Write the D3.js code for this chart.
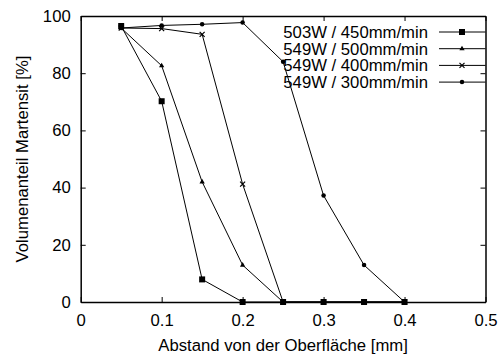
<!DOCTYPE html>
<html>
  <head>
    <meta charset="utf-8">
    <title>Martensit</title>
    <style>
      body{margin:0; background:#fff;}
      svg{font-family: "Liberation Sans", Arial, sans-serif;}
    </style>
    <script src="https://d3js.org/d3.v7.min.js"></script>
  </head>
  <body>
    <script>

        // distance from the surface [mm]
        var distances = [0.05, 0.1, 0.15, 0.2, 0.25, 0.3, 0.35, 0.4];

        var labels = ["503W / 450mm/min", "549W / 500mm/min", "549W / 400mm/min", "549W / 300mm/min"];
        var symbols = ["square", "triangle", "cross", "circle"];

        var s450 = [96.5, 70.2, 7.9, 0, 0, 0, 0, 0];
        var s500 = [95.8, 82.6, 42, 12.9, 0, 0, 0, 0];
        var s400 = [95.8, 95.6, 93.6, 41.2, 0, 0, 0, 0];
        var s300 = [95.8, 96.7, 97.1, 97.7, 84, 37.2, 12.9, 0];
        var series = [s450, s500, s400, s300];

        var xTicks = [0, 0.1, 0.2, 0.3, 0.4, 0.5];
        var yTicks = [0, 20, 40, 60, 80, 100];

        var fs = 16.7;
        var width = 502, height = 356;
        var margin = {top: 16, right: 16.5, bottom: 54, left: 80.7};
        var w = width - margin.left - margin.right;
        var h = height - margin.top - margin.bottom;

        var svg = d3.select("body").append("svg")
            .attr("width", width)
            .attr("height", height);

        var g = svg.append("g")
            .attr("transform", "translate(" + margin.left + "," + margin.top + ")");

        var x = d3.scaleLinear().domain([0, 0.5]).range([0, w]);
        var y = d3.scaleLinear().domain([0, 100]).range([h, 0]);

        // axes, ticks pointing inwards, mirrored on top/right
        var axBottom = g.append("g").attr("transform", "translate(0," + h + ")")
            .call(d3.axisBottom(x).tickValues(xTicks).tickSizeInner(-5).tickSizeOuter(0).tickPadding(12.5)
                .tickFormat(function (d) { return d === 0 ? "0" : d3.format(".1f")(d); }));
        var axLeft = g.append("g")
            .call(d3.axisLeft(y).tickValues(yTicks).tickSizeInner(-5).tickSizeOuter(0).tickPadding(10));
        var axTop = g.append("g")
            .call(d3.axisTop(x).tickValues(xTicks).tickSizeInner(-5).tickSizeOuter(0).tickFormat(""));
        var axRight = g.append("g").attr("transform", "translate(" + w + ",0)")
            .call(d3.axisRight(y).tickValues(yTicks).tickSizeInner(-5).tickSizeOuter(0).tickFormat(""));

        [axBottom, axLeft, axTop, axRight].forEach(function (a) {
            a.attr("font-size", fs).attr("font-family", "Liberation Sans, Arial, sans-serif");
            a.select(".domain").attr("stroke", "#000").attr("stroke-width", 1.5);
            a.selectAll(".tick line").attr("stroke", "#000").attr("stroke-width", 1);
            a.selectAll("text").attr("fill", "#000");
        });

        var symbolGen = {
            square: d3.symbol().type(d3.symbolSquare).size(36),
            triangle: d3.symbol().type(d3.symbolTriangle).size(12),
            cross: d3.symbol().type(d3.symbolX).size(18),
            circle: d3.symbol().type(d3.symbolCircle).size(16)
        };

        var line = d3.line()
            .x(function (d, i) { return x(distances[i]); })
            .y(function (d) { return y(d); });

        function drawSymbol(sel, type) {
            sel.append("path")
                .attr("d", symbolGen[type]())
                .attr("fill", type === "cross" ? "none" : "#000")
                .attr("stroke", "#000")
                .attr("stroke-width", type === "cross" ? 1.2 : 0);
        }

        series.forEach(function (s, k) {
            g.append("path")
                .datum(s)
                .attr("d", line)
                .attr("fill", "none")
                .attr("stroke", "#000")
                .attr("stroke-width", 1);

            g.selectAll(".pt" + k).data(s).enter()
                .append("g")
                .attr("class", "pt" + k)
                .attr("transform", function (d, i) { return "translate(" + x(distances[i]) + "," + y(d) + ")"; })
                .each(function () { drawSymbol(d3.select(this), symbols[k]); });
        });

        // legend
        var legend = svg.append("g");
        labels.forEach(function (t, k) {
            var ly = 32 + k * 16.7;
            legend.append("text")
                .attr("x", 428).attr("y", ly)
                .attr("dy", "0.35em")
                .attr("text-anchor", "end")
                .attr("font-size", fs)
                .text(t);
            legend.append("line")
                .attr("x1", 439).attr("x2", width - margin.right)
                .attr("y1", ly).attr("y2", ly)
                .attr("stroke", "#000").attr("stroke-width", 1);
            var m = legend.append("g").attr("transform", "translate(462," + ly + ")");
            drawSymbol(m, symbols[k]);
        });

        // axis titles
        svg.append("text")
            .attr("x", margin.left + w / 2).attr("y", 351)
            .attr("text-anchor", "middle")
            .attr("font-size", fs)
            .text("Abstand von der Oberfläche [mm]");

        svg.append("text")
            .attr("transform", "translate(28," + (margin.top + h / 2) + ") rotate(-90)")
            .attr("text-anchor", "middle")
            .attr("font-size", fs)
            .text("Volumenanteil Martensit [%]");

    </script>
  </body>
</html>
